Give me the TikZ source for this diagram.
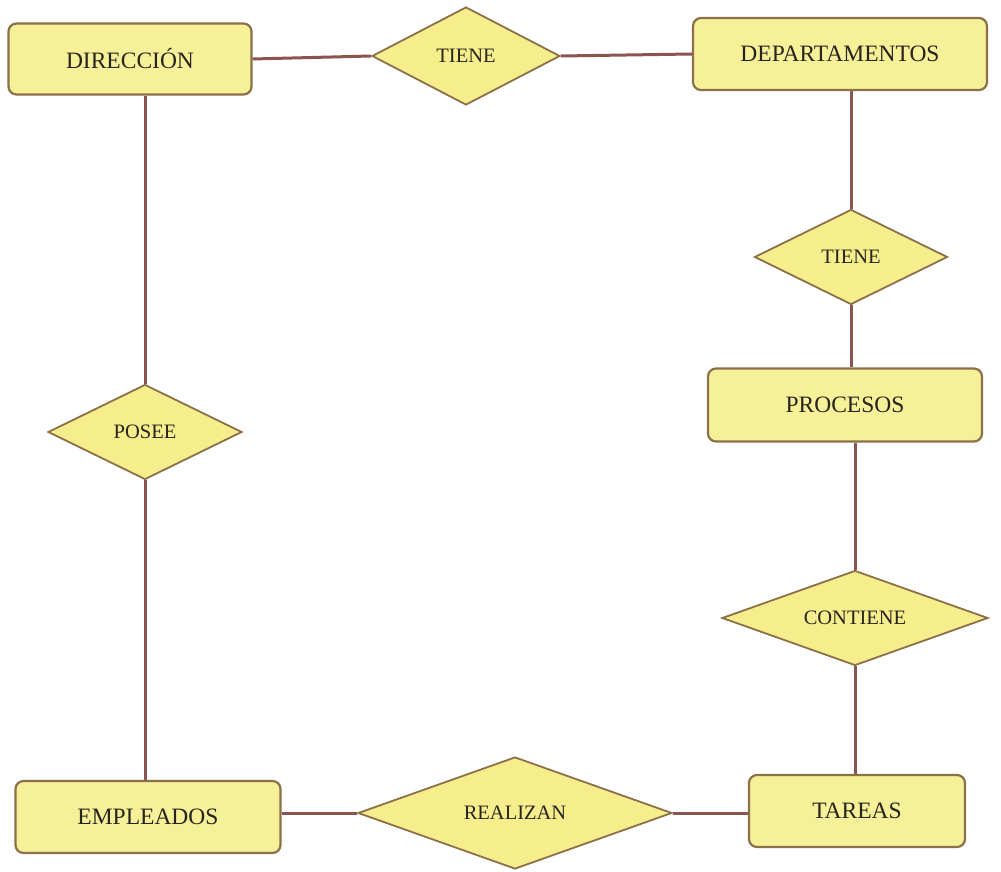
\documentclass[tikz,border=0pt]{standalone}
\usepackage{fontspec}
\setmainfont{Liberation Serif}
\usetikzlibrary{shapes.geometric}
\definecolor{boxfill}{RGB}{246,241,152}
\definecolor{rhombfill}{RGB}{246,238,140}
\definecolor{edge}{RGB}{140,112,72}
\definecolor{link}{RGB}{138,84,80}
\definecolor{ink}{RGB}{40,36,30}
\tikzset{
  entity/.style={draw=edge, line width=2.2pt, fill=boxfill, rounded corners=8pt,
    text=ink, font=\fontsize{23.5}{28}\selectfont, inner sep=0pt},
  relation/.style={diamond, draw=edge, line width=1.8pt, fill=rhombfill,
    text=ink, font=\fontsize{20.5}{25}\selectfont, inner sep=0pt, aspect=2},
  conn/.style={draw=link, line width=3pt}
}
\begin{document}
\begin{tikzpicture}[x=1pt, y=-1pt]
\useasboundingbox (0,0) rectangle (1001,872);

% entities
\node[entity, minimum width=243pt, minimum height=71pt] (dir) at (130,59) {DIRECCIÓN};
\node[entity, minimum width=294pt, minimum height=72pt] (dep) at (840,54) {DEPARTAMENTOS};
\node[entity, minimum width=274pt, minimum height=73pt] (proc) at (845,405) {PROCESOS};
\node[entity, minimum width=216pt, minimum height=72pt] (tar) at (857,811) {TAREAS};
\node[entity, minimum width=265pt, minimum height=72pt] (emp) at (148,817) {EMPLEADOS};

% relationships
\node[relation, minimum width=188pt, minimum height=98pt] (t1) at (466,56) {TIENE};
\node[relation, minimum width=193pt, minimum height=95pt] (t2) at (851,257) {TIENE};
\node[relation, aspect=2.8, minimum width=266pt, minimum height=95pt] (cont) at (855,618) {CONTIENE};
\node[relation, aspect=2.8, minimum width=314pt, minimum height=112pt] (real) at (515,813) {REALIZAN};
\node[relation, minimum width=194pt, minimum height=95pt] (pos) at (145,432) {POSEE};

% connectors
\draw[conn] (dir.east) -- (t1.west);
\draw[conn] (t1.east) -- (dep.west);
\draw[conn] (t2.north) -- (t2.north |- dep.south);
\draw[conn] (t2.south) -- (t2.south |- proc.north);
\draw[conn] (cont.north) -- (cont.north |- proc.south);
\draw[conn] (cont.south) -- (cont.south |- tar.north);
\draw[conn] (real.east) -- (real.east -| tar.west);
\draw[conn] (real.west) -- (real.west -| emp.east);
\draw[conn] (pos.north) -- (pos.north |- dir.south);
\draw[conn] (pos.south) -- (pos.south |- emp.north);
\end{tikzpicture}
\end{document}
